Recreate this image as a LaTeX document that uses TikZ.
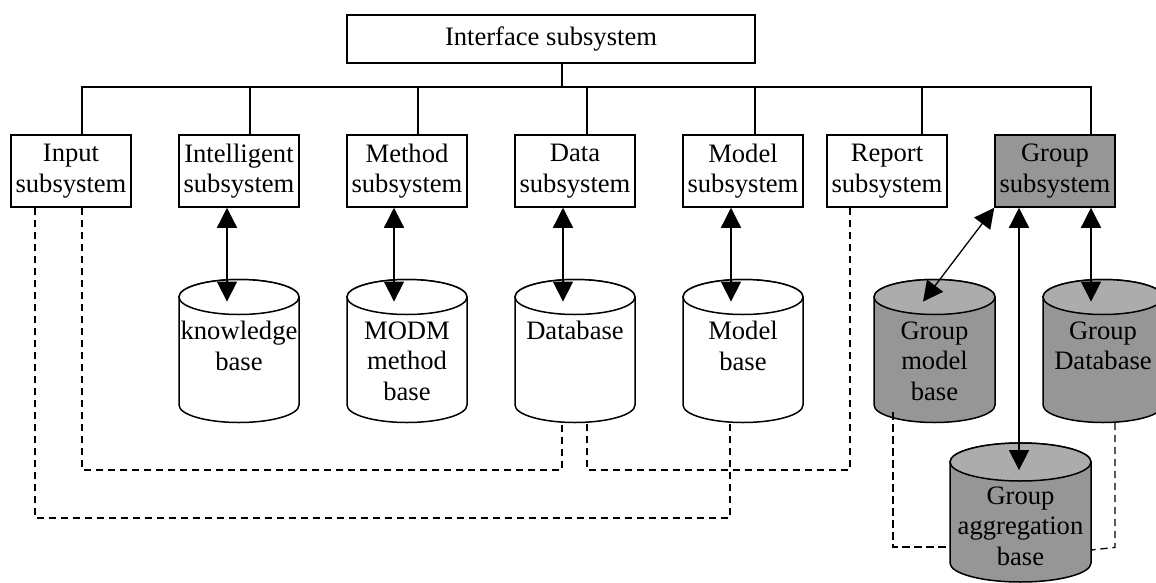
\documentclass[tikz,border=0pt]{standalone}
\usepackage{fontspec}
\setmainfont{Liberation Serif}
\usetikzlibrary{arrows.meta,calc}
\definecolor{gbody}{RGB}{150,150,150}
\definecolor{gtop}{RGB}{172,172,172}
\newcommand{\dfont}{\fontsize{13.3pt}{15.25pt}\selectfont}
\newcommand{\cylshape}[7]{%
  \draw[cylline, fill=#6] ({#1-#4},#2) -- ({#1-#4},#3)
     arc[start angle=180, end angle=360, x radius=#4*0.5pt, y radius=#5*0.5pt]
     -- ({#1+#4},#2)
     arc[start angle=0, end angle=180, x radius=#4*0.5pt, y radius=#5*0.5pt] -- cycle;
  \draw[cylline, fill=#7] (#1,#2) ellipse [x radius=#4*0.5pt, y radius=#5*0.5pt];
}
\tikzset{
  box/.style={draw, line width=0.75pt, minimum width=60pt, minimum height=36pt,
    inner sep=0pt, align=center, fill=white, font=\dfont},
  cylline/.style={line width=0.75pt},
  cylarea/.style={inner sep=0pt, minimum width=60pt, minimum height=71.5pt},
  cyltext/.style={anchor=north, inner sep=0pt, align=center, font=\dfont},
  link/.style={line width=0.65pt},
  dbl/.style={line width=0.65pt, {Triangle[length=10pt,width=10pt]}-{Triangle[length=10pt,width=10pt]}},
  dashlink/.style={line width=0.65pt, dash pattern=on 3.6pt off 2.4pt}
}
\begin{document}
\begin{tikzpicture}[x=0.5pt, y=-0.5pt]
\useasboundingbox (0,0) rectangle (1156,583);
\fill[white] (0,0) rectangle (1156,583);

% cylinders
\cylshape{239}{297}{405}{60}{17.5}{white}{white}
\cylshape{407}{297}{405}{60}{17.5}{white}{white}
\cylshape{575}{297}{405}{60}{17.5}{white}{white}
\cylshape{743}{297}{405}{60}{17.5}{white}{white}
\cylshape{934.5}{297}{405}{60.5}{17.5}{gbody}{gtop}
\cylshape{1103}{297}{405}{60}{17.5}{gbody}{gtop}
\cylshape{1020.5}{462}{563}{70.5}{19}{gbody}{gtop}

\node[cylarea] (kb) at (239,351) {};
\node[cylarea] (modm) at (407,351) {};
\node[cylarea] (db) at (575,351) {};
\node[cylarea] (mb) at (743,351) {};
\node[cylarea, minimum width=60.5pt] (gmb) at (934.5,351) {};
\node[cylarea] (gdb) at (1103,351) {};
\node[cylarea, minimum width=70.5pt, minimum height=69.5pt] (gab) at (1020.5,512.5) {};

\node[cyltext] (kbt) at (239,321) {knowledge\\base};
\node[cyltext] (modmt) at (407,321) {MODM\\method\\base};
\node[cyltext] (dbt) at (575,321) {Database};
\node[cyltext] (mbt) at (743,321) {Model\\base};
\node[cyltext] (gmbt) at (934.5,321) {Group\\model\\base};
\node[cyltext] (gdbt) at (1103,321) {Group\\Database};
\node[cyltext] (gabt) at (1020.5,486) {Group\\aggregation\\base};

% boxes
\node[box, minimum width=204pt, minimum height=24pt] (iface) at (551,39) {Interface subsystem};
\node[box] (input) at (71,171) {Input\\subsystem};
\node[box] (intel) at (239,171) {Intelligent\\subsystem};
\node[box] (method) at (407,171) {Method\\subsystem};
\node[box] (data) at (575,171) {Data\\subsystem};
\node[box] (model) at (743,171) {Model\\subsystem};
\node[box] (report) at (887,171) {Report\\subsystem};
\node[box, fill=gbody] (group) at (1055,171) {Group\\subsystem};

% tree
\coordinate (bus) at (562,87);
\draw[link] ([xshift=5.5pt]iface.south) -- (bus);
\draw[link] ([xshift=5.5pt]input.north) |- (bus) -| ([xshift=18pt]group.north);
\draw[link] ([xshift=5.5pt]intel.north) -- ([xshift=5.5pt]intel.north |- bus);
\draw[link] ([xshift=5.5pt]method.north) -- ([xshift=5.5pt]method.north |- bus);
\draw[link] ([xshift=6pt]data.north) -- ([xshift=6pt]data.north |- bus);
\draw[link] ([xshift=6pt]model.north) -- ([xshift=6pt]model.north |- bus);
\draw[link] ([xshift=17.5pt]report.north) -- ([xshift=17.5pt]report.north |- bus);

% dashed
\coordinate (busa) at (300,470);
\coordinate (busb) at (700,470);
\coordinate (busc) at (400,518);
\draw[dashlink] ([xshift=5.5pt]input.south) |- (busa) -| ([xshift=-6.5pt]db.south);
\draw[dashlink] ([xshift=-18.5pt]report.south) |- (busb) -| ([xshift=6pt]db.south);
\draw[dashlink] ([xshift=-18pt]input.south) |- (busc) -| ([xshift=-6.5pt]mb.south);
\draw[dashlink] ([xshift=-20.75pt,yshift=5.25pt]gmb.south) |- ([yshift=-17.25pt]gab.west);
\draw[dashlink] ([xshift=6pt]gdb.south) -- ([xshift=6pt,yshift=-62.25pt]gdb.south) -- ([yshift=-18.75pt]gab.east);

% arrows
\draw[dbl] ([xshift=-6pt]intel.south) -- ([xshift=-6pt,yshift=-11.25pt]kb.north);
\draw[dbl] ([xshift=-6.5pt]method.south) -- ([xshift=-6.5pt,yshift=-11.25pt]modm.north);
\draw[dbl] ([xshift=-6pt]data.south) -- ([xshift=-6pt,yshift=-11.25pt]db.north);
\draw[dbl] ([xshift=-6pt]model.south) -- ([xshift=-6pt,yshift=-11.25pt]mb.north);
\draw[dbl] (group.south west) -- ([xshift=-5.75pt,yshift=-11.25pt]gmb.north);
\draw[dbl] ([xshift=-18pt]group.south) -- ([xshift=-0.75pt,yshift=-13.75pt]gab.north);
\draw[dbl] ([xshift=18pt]group.south) -- ([xshift=-6pt,yshift=-11.25pt]gdb.north);
\end{tikzpicture}
\end{document}
